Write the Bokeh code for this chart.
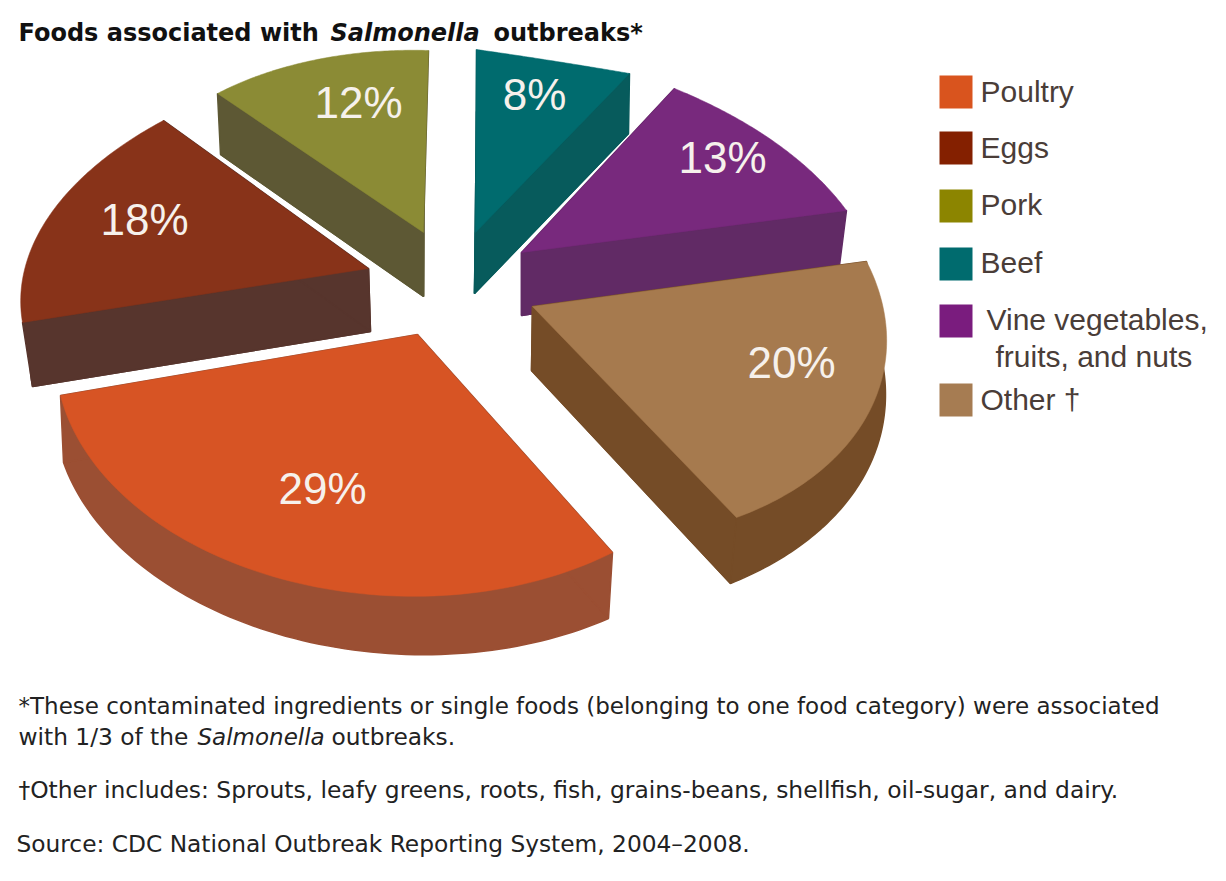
import numpy as np
from bokeh.plotting import figure
from bokeh.embed import file_html
from bokeh.resources import INLINE
from bokeh.core.properties import value

# ---- data ----
categories = ["Poultry", "Eggs", "Pork", "Beef", "Vine vegetables, fruits, and nuts", "Other"]
shares = [29, 18, 12, 8, 13, 20]

# ---- style ----
top_colors = ["#D75424", "#883319", "#8B8B35", "#006B6E", "#78297D", "#A67A4E"]
wall_colors = ["#9B4F33", "#57352D", "#5D5834", "#075B5C", "#612A65", "#754C27"]
legend_colors = ["#D9541E", "#842000", "#8C8500", "#006B6E", "#7A1C7E", "#A67C52"]

# ---- layout of the exploded, tilted pie (page pixels): wedge tip, two rim vectors, bulge ----
top_tip = [(417, 334), (368, 268), (423, 232), (475, 232), (521, 252), (532, 306)]
top_u = [(-357, 61), (-346, 54), (-206, -139), (1, -183), (153, -164), (334, -45)]
top_v = [(195, 218), (-205, -148), (5, -182), (154, -159), (325, -42), (204, 211)]
top_bulge = [-0.10, 0.14, 0.0, 0.9, 0.27, -0.06]
base_tip = [(415, 402), (370, 331), (423, 296), (474, 293), (521, 315), (531, 370)]
base_u = [(-352, 60), (-338, 55), (-203, -142), (2, -182), (153, -165), (347, -25)]
base_v = [(193, 216), (-205, -148), (1, -184), (154, -160), (318, -50), (199, 213)]
base_bulge = [-0.05, 0.14, 0.0, 0.9, 0.27, 0.12]
draw_order = [2, 3, 1, 4, 5, 0]

label_x = [322, 144, 358, 534, 722, 791]
label_y = [488, 219, 102, 94, 157, 362]

legend_lines = [["Poultry"], ["Eggs"], ["Pork"], ["Beef"],
                ["Vine vegetables,", "fruits, and nuts"], ["Other \u2020"]]
legend_line_x = [[980], [980], [980], [980], [986, 995], [980]]
legend_line_y = [[91], [147], [204], [262], [319, 356], [399]]
legend_box_top = [75, 131, 189, 247, 304, 383]

title_parts = [("Foods associated with ", 18, "bold"), ("Salmonella", 330, "bold italic"),
               ("outbreaks*", 493, "bold")]
notes = [
    ("*These contaminated ingredients or single foods (belonging to one food category) were associated", 18, 705, "normal", "23px"),
    ("with 1/3 of the ", 18, 736, "normal", "23.3px"),
    ("Salmonella", 197, 736, "italic", "23px"),
    ("outbreaks.", 331, 736, "normal", "23.3px"),
    ("\u2020Other includes: Sprouts, leafy greens, roots, fish, grains-beans, shellfish, oil-sugar, and dairy.", 18, 789, "normal", "23.4px"),
    ("Source: CDC National Outbreak Reporting System, 2004\u20132008.", 16, 843, "normal", "23.3px"),
]


def sector(tip, u, v, share, bulge, n=80):
    span = np.radians(share * 3.6)
    th = np.linspace(0, span, n)
    a = np.sin(span - th) / np.sin(span)
    b = np.sin(th) / np.sin(span)
    d = 1 + bulge * (a + b - 1)
    x = tip[0] + (a * u[0] + b * v[0]) / d
    y = tip[1] + (a * u[1] + b * v[1]) / d
    return x, y


p = figure(width=1210, height=865, x_range=(0, 1210), y_range=(865, 0),
           output_backend="svg", toolbar_location=None, min_border=0,
           background_fill_color="white", border_fill_color="white", outline_line_color=None)
p.axis.visible = False
p.grid.visible = False

for i in draw_order:
    tt, bt = top_tip[i], base_tip[i]
    tx, ty = sector(tt, top_u[i], top_v[i], shares[i], top_bulge[i])
    bx, by = sector(bt, base_u[i], base_v[i], shares[i], base_bulge[i])
    wall = wall_colors[i]
    style = dict(fill_color=wall, fill_alpha=1.0, line_color=wall, line_alpha=1.0, line_width=1.5)
    # floor of the wedge
    p.patch(np.r_[bt[0], bx], np.r_[bt[1], by], **style)
    # the two flat cut faces
    p.patch([tt[0], tx[0], bx[0], bt[0]], [tt[1], ty[0], by[0], bt[1]], **style)
    p.patch([tt[0], tx[-1], bx[-1], bt[0]], [tt[1], ty[-1], by[-1], bt[1]], **style)
    # top face
    p.patch(np.r_[tt[0], tx], np.r_[tt[1], ty], fill_color=top_colors[i], fill_alpha=1.0,
            line_color=top_colors[i], line_width=0.5)

p.text(label_x, label_y, text=[f"{s}%" for s in shares], text_color="#F6F1EC",
       text_font=value("Liberation Sans"), text_font_size="44px",
       text_align="center", text_baseline="middle")

# legend
box = 33
p.quad(left=[939] * 6, right=[939 + box] * 6, top=legend_box_top,
       bottom=[t + box for t in legend_box_top], fill_color=legend_colors, line_color=None)
for lines, xs, ys in zip(legend_lines, legend_line_x, legend_line_y):
    p.text(xs, ys, text=lines, text_color="#4A3D38", text_font=value("Liberation Sans"),
           text_font_size="30px", text_align="left", text_baseline="middle")

for txt, x, style in title_parts:
    p.text([x], [32], text=[txt], text_color="#111111", text_font=value("DejaVu Sans"),
           text_font_size="24px", text_font_style=style, text_baseline="middle")

for txt, x, y, style, size in notes:
    p.text([x], [y], text=[txt], text_color="#222222", text_font=value("DejaVu Sans"),
           text_font_size=size, text_font_style=style, text_baseline="middle")

open("out.html", "w").write(file_html(p, INLINE))
